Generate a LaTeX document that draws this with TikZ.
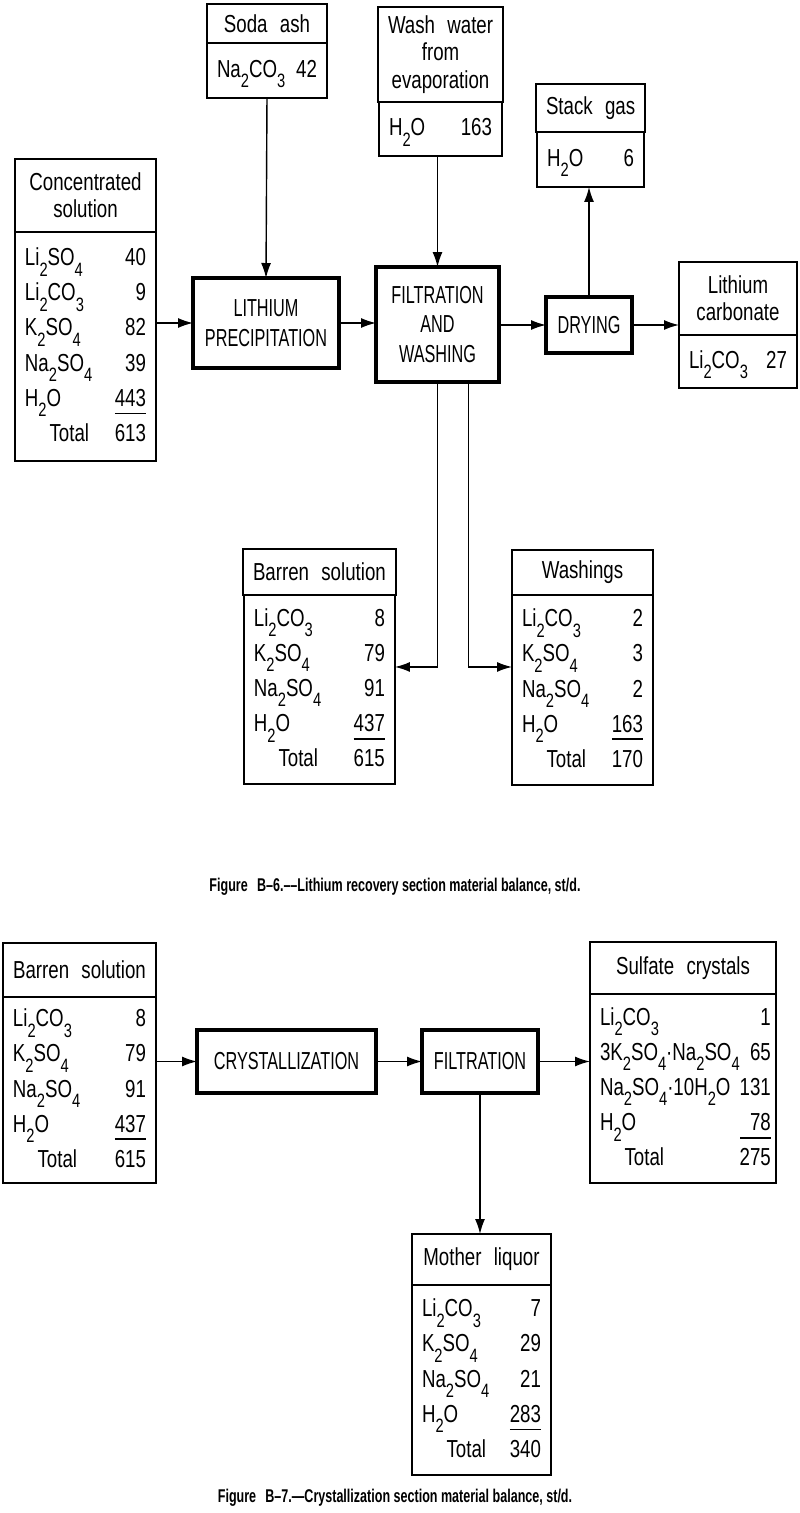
\documentclass[tikz,border=0pt]{standalone}
\usepackage{fontspec}
\setmainfont{Liberation Sans}[FakeStretch=0.76]
\newfontfamily\unitfont{Liberation Sans}[FakeStretch=0.66]
\newfontfamily\capfont{Liberation Sans}[FakeStretch=0.68]
\usetikzlibrary{arrows.meta, positioning}
\newcommand{\sbs}[1]{\raisebox{-0.8ex}{\fontsize{11}{11}\selectfont #1}}
\newcommand{\sumline}[1]{\setbox0\hbox{#1}\rlap{\rule[-4.5pt]{\wd0}{0.9pt}}\box0}
\newcommand{\flows}[1]{\begin{tabular*}{\linewidth}{@{}l@{\extracolsep{\fill}}r@{}}#1\end{tabular*}}

\begin{document}
\begin{tikzpicture}[
                x=0.02cm, y=-0.02cm,
                head/.style = {draw, line width=1.1pt, outer sep=0pt, inner xsep=0.2cm, inner ysep=2pt,
                               align=center, anchor=north west, font=\fontsize{14}{15.5}\selectfont},
                body/.style = {draw, line width=1.1pt, outer sep=0pt, inner xsep=0.2cm, inner ysep=2pt,
                               font=\fontsize{14}{20}\selectfont},
                unit/.style = {draw, line width=2.2pt, outer sep=0pt, align=center,
                               font=\unitfont\fontsize{14}{17}\selectfont},
                flow/.style = {-{Latex[length=0.3cm, width=0.2cm]}, line width=0.8pt},
                caption/.style = {font=\capfont\bfseries\fontsize{10.5}{12}\selectfont}
              ]
              \useasboundingbox (0,0) rectangle (800,1513);
              % Figure B-6: streams
              \node[head, minimum width=2.4cm, minimum height=0.78cm] (sodahead) at (207,4) {Soda\enspace ash};
              \node[body, text width=2.0cm, minimum height=1.1cm, below=0pt of sodahead] (sodabody)
                {\flows{Na\sbs2CO\sbs3 & 42}};
              \node[head, minimum width=2.82cm, minimum height=1.46cm] (conchead) at (15,159) {Concentrated\\solution};
              \node[body, text width=2.42cm, minimum height=4.58cm, below=0pt of conchead] (concbody)
                {\flows{Li\sbs2SO\sbs4 & 40\\ Li\sbs2CO\sbs3 & 9\\ K\sbs2SO\sbs4 & 82\\ Na\sbs2SO\sbs4 & 39\\
                        H\sbs2O & \sumline{443}\\ \quad Total & 613}};
              \node[head, minimum width=2.46cm, minimum height=1.9cm] (washhead) at (378,7) {Wash\enspace water\\from\\evaporation};
              \node[body, text width=2.06cm, minimum height=1.08cm, below=0pt of washhead] (washbody)
                {\flows{H\sbs2O & 163}};
              \node[head, minimum width=2.14cm, minimum height=0.96cm] (stackhead) at (536,84) {Stack\enspace gas};
              \node[body, text width=1.74cm, minimum height=1.1cm, below=0pt of stackhead] (stackbody)
                {\flows{H\sbs2O & 6}};
              \node[head, minimum width=2.36cm, minimum height=1.46cm] (carbhead) at (679,262) {Lithium\\carbonate};
              \node[body, text width=1.96cm, minimum height=1.06cm, below=0pt of carbhead] (carbbody)
                {\flows{Li\sbs2CO\sbs3 & 27}};
              \node[head, minimum width=3.02cm, minimum height=0.92cm] (barrenhead) at (243,549) {Barren\enspace solution};
              \node[body, text width=2.62cm, minimum height=3.78cm, below=0pt of barrenhead] (barrenbody)
                {\flows{Li\sbs2CO\sbs3 & 8\\ K\sbs2SO\sbs4 & 79\\ Na\sbs2SO\sbs4 & 91\\
                        H\sbs2O & \sumline{437}\\ \quad Total & 615}};
              \node[head, minimum width=2.82cm, minimum height=0.9cm] (washinghead) at (512,550) {Washings};
              \node[body, text width=2.42cm, minimum height=3.8cm, below=0pt of washinghead] (washingbody)
                {\flows{Li\sbs2CO\sbs3 & 2\\ K\sbs2SO\sbs4 & 3\\ Na\sbs2SO\sbs4 & 2\\
                        H\sbs2O & \sumline{163}\\ \quad Total & 170}};
              % Figure B-6: units
              \node[unit, minimum width=2.92cm, minimum height=1.8cm] (precip) at (266,323) {LITHIUM\\PRECIPITATION};
              \node[unit, minimum width=2.46cm, minimum height=2.3cm] (filtwash) at (437.5,324.5) {FILTRATION\\AND\\WASHING};
              \node[unit, minimum width=1.72cm, minimum height=1.12cm] (drying) at (589,325) {DRYING};
              % Figure B-6: flows
              \draw[flow] (concbody.east |- precip.west) -- (precip.west);
              \draw[flow] (sodabody.south) -- (precip.north);
              \draw[flow] (precip.east) -- (precip.east -| filtwash.west);
              \draw[flow] (filtwash.north |- washbody.south) -- (filtwash.north);
              \draw[flow] (filtwash.east |- drying.west) -- (drying.west);
              \draw[flow] (drying.north) -- (drying.north |- stackbody.south);
              \draw[flow] (drying.east) -- (drying.east -| carbhead.west);
              \draw[flow] (filtwash.south) |- ([yshift=0.45cm]barrenbody.east);
              \draw[flow] ([xshift=0.62cm]filtwash.south) |- ([yshift=0.46cm]washingbody.west);
              \node[caption] (cap6) at (395,887) {Figure\enspace B–6.––Lithium recovery section material balance, st/d.};
              % Figure B-7: streams
              \node[head, minimum width=3.06cm, minimum height=1.08cm] (barren2head) at (3,943) {Barren\enspace solution};
              \node[body, text width=2.66cm, minimum height=3.72cm, below=0pt of barren2head] (barren2body)
                {\flows{Li\sbs2CO\sbs3 & 8\\ K\sbs2SO\sbs4 & 79\\ Na\sbs2SO\sbs4 & 91\\
                        H\sbs2O & \sumline{437}\\ \quad Total & 615}};
              \node[head, minimum width=3.72cm, minimum height=1.04cm] (sulfhead) at (590,942) {Sulfate\enspace crystals};
              \node[body, text width=3.32cm, minimum height=3.78cm, below=0pt of sulfhead] (sulfbody)
                {\flows{Li\sbs2CO\sbs3 & 1\\ 3K\sbs2SO\sbs4·Na\sbs2SO\sbs4 & 65\\ Na\sbs2SO\sbs4·10H\sbs2O & 131\\
                        H\sbs2O & \sumline{\kern0.4em 78}\\ \quad Total & 275}};
              \node[head, minimum width=2.78cm, minimum height=1.02cm] (motherhead) at (412,1234) {Mother\enspace liquor};
              \node[body, text width=2.38cm, minimum height=3.8cm, below=0pt of motherhead] (motherbody)
                {\flows{Li\sbs2CO\sbs3 & 7\\ K\sbs2SO\sbs4 & 29\\ Na\sbs2SO\sbs4 & 21\\
                        H\sbs2O & \sumline{283}\\ \quad Total & 340}};
              % Figure B-7: units
              \node[unit, minimum width=3.58cm, minimum height=1.26cm] (cryst) at (286.5,1061.5) {CRYSTALLIZATION};
              \node[unit, minimum width=2.32cm, minimum height=1.26cm] (filt) at (480,1061.5) {FILTRATION};
              % Figure B-7: flows
              \draw[flow] (barren2body.east |- cryst.west) -- (cryst.west);
              \draw[flow] (cryst.east) -- (filt.west);
              \draw[flow] (filt.east) -- (filt.east -| sulfbody.west);
              \draw[flow] (filt.south) -- (filt.south |- motherhead.north);
              \node[caption] (cap7) at (395,1498) {Figure\enspace B–7.—Crystallization section material balance, st/d.};
            \end{tikzpicture}
\end{document}
